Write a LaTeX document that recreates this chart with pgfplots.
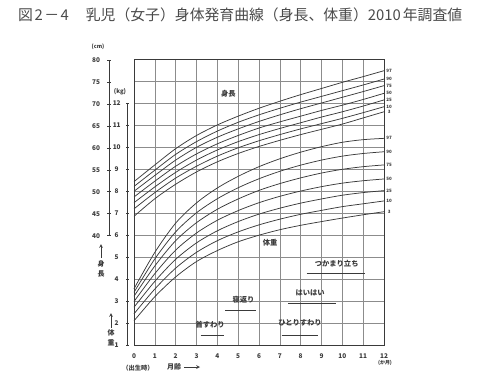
\documentclass[border=0pt]{standalone}
\usepackage{fontspec}
\setmainfont{Noto Sans CJK JP}
\usepackage{pgfplots}
\usepackage{pgfplotstable}
\pgfplotsset{compat=1.18}
\definecolor{gridc}{HTML}{8C8C8C}
\definecolor{curvec}{HTML}{3A3A3A}
\definecolor{ttl}{HTML}{4A4A4A}

% height (cm), girls, percentiles 3,10,25,50,75,90,97
\pgfplotstableread{
m  p3    p10   p25   p50   p75   p90   p97
0  44.3  46.0  47.4  48.7  50.0  51.1  52.2
1  48.3  49.7  51.0  52.3  53.6  54.8  56.0
2  51.6  53.0  54.3  55.7  57.1  58.4  59.7
3  54.4  55.7  57.1  58.5  60.0  61.3  62.7
4  56.7  58.0  59.4  60.8  62.3  63.7  65.1
5  58.6  59.9  61.3  62.7  64.2  65.7  67.1
6  60.2  61.5  62.9  64.4  65.9  67.4  68.9
7  61.6  62.9  64.3  65.8  67.4  68.9  70.5
8  62.9  64.2  65.6  67.1  68.8  70.3  72.0
9  64.1  65.4  66.9  68.4  70.1  71.6  73.4
10 65.3  66.6  68.1  69.6  71.4  72.9  74.8
11 66.7  67.9  69.4  70.9  72.7  74.2  76.1
12 68.1  69.25 70.8  72.3  74.05 75.55 77.45
}\heighttab

% weight (kg), girls, percentiles 3,10,25,50,75,90,97
\pgfplotstableread{
m  p3    p10   p25   p50   p75   p90   p97
0  2.10  2.42  2.72  2.98  3.22  3.40  3.56
1  3.20  3.55  3.90  4.25  4.60  4.92  5.22
2  4.10  4.50  4.90  5.32  5.75  6.15  6.55
3  4.80  5.22  5.65  6.10  6.57  7.02  7.47
4  5.30  5.75  6.20  6.68  7.18  7.66  8.15
5  5.70  6.15  6.62  7.12  7.65  8.16  8.68
6  6.00  6.47  6.96  7.48  8.04  8.57  9.12
7  6.25  6.73  7.23  7.77  8.35  8.91  9.48
8  6.45  6.95  7.46  8.01  8.61  9.19  9.78
9  6.62  7.13  7.65  8.21  8.83  9.42  10.03
10 6.78  7.30  7.82  8.37  9.00  9.60  10.23
11 6.93  7.43  7.94  8.48  9.12  9.72  10.35
12 7.07  7.56  8.03  8.56  9.20  9.80  10.41
}\weighttab

\pgfplotsset{cv/.style={draw=curvec, line width=0.75bp, no marks, solid}}

\begin{document}
\begin{tikzpicture}[x=1bp,y=1bp]
\path[use as bounding box] (0,0) rectangle (500,391);

\node[anchor=west, inner sep=0, text=ttl, font=\fontsize{14.9}{17}\selectfont] at (18,376)
  {図\hspace{1.5bp}2\hspace{1.5bp}－\hspace{1.5bp}4\hspace{17bp}乳児（女子）身体発育曲線（身長、体重）2010\hspace{2bp}年調査値};

% cm scale
\begin{axis}[at={(109bp,155.3bp)}, anchor=south west, scale only axis,
  width=10bp, height=175.7bp, xmin=0, xmax=1, ymin=40, ymax=80,
  hide x axis, axis y line*=left,
  axis line style={draw=curvec, line width=0.7bp},
  ytick={40,45,...,80}, tick align=center, major tick length=4bp,
  ytick style={draw=curvec, line width=0.6bp},
  /pgf/number format/assume math mode=true,
  yticklabel style={anchor=center, xshift=-11bp, text=curvec, font=\fontsize{6.5}{7}\selectfont\bfseries}]
\end{axis}

% kg scale
\begin{axis}[at={(127.7bp,46bp)}, anchor=south west, scale only axis,
  width=10bp, height=241.6bp, xmin=0, xmax=1, ymin=1, ymax=12,
  hide x axis, axis y line*=left,
  axis line style={draw=curvec, line width=0.7bp},
  ytick={1,...,12}, tick align=center, major tick length=3bp,
  ytick style={draw=curvec, line width=0.6bp},
  /pgf/number format/assume math mode=true,
  yticklabel style={anchor=center, xshift=-9.5bp, text=curvec, font=\fontsize{6.5}{7}\selectfont\bfseries}]
\end{axis}

% main chart
\begin{axis}[at={(134bp,46bp)}, anchor=south west, scale only axis,
  width=250bp, height=285.5bp, xmin=0, xmax=12, ymin=1, ymax=14,
  xtick={0,...,12}, ytick={1,...,14}, yticklabels={},
  grid=major, grid style={draw=gridc, line width=0.55bp},
  axis line style={draw=curvec, line width=0.8bp},
  major tick length=0bp,
  /pgf/number format/assume math mode=true,
  xticklabel style={anchor=center, yshift=-11bp, text=curvec, font=\fontsize{6.5}{7}\selectfont\bfseries},
  clip=false]

% height curves (cm mapped onto the kg grid: 40 cm = 6, 5 cm per unit)
\addplot[cv, smooth] table[x=m, y expr={6+(\thisrow{p3}-40)/5}] {\heighttab};
\addplot[cv, smooth] table[x=m, y expr={6+(\thisrow{p10}-40)/5}] {\heighttab};
\addplot[cv, smooth] table[x=m, y expr={6+(\thisrow{p25}-40)/5}] {\heighttab};
\addplot[cv, smooth] table[x=m, y expr={6+(\thisrow{p50}-40)/5}] {\heighttab};
\addplot[cv, smooth] table[x=m, y expr={6+(\thisrow{p75}-40)/5}] {\heighttab};
\addplot[cv, smooth] table[x=m, y expr={6+(\thisrow{p90}-40)/5}] {\heighttab};
\addplot[cv, smooth] table[x=m, y expr={6+(\thisrow{p97}-40)/5}] {\heighttab};
% weight curves
\addplot[cv, smooth] table[x=m, y=p3] {\weighttab};
\addplot[cv, smooth] table[x=m, y=p10] {\weighttab};
\addplot[cv, smooth] table[x=m, y=p25] {\weighttab};
\addplot[cv, smooth] table[x=m, y=p50] {\weighttab};
\addplot[cv, smooth] table[x=m, y=p75] {\weighttab};
\addplot[cv, smooth] table[x=m, y=p90] {\weighttab};
\addplot[cv, smooth] table[x=m, y=p97] {\weighttab};

% milestones
\addplot[cv] coordinates {(3.2,1.43) (4.3,1.43)};
\addplot[cv] coordinates {(4.37,2.59) (5.86,2.59)};
\addplot[cv] coordinates {(7.4,2.90) (9.68,2.90)};
\addplot[cv] coordinates {(7.09,1.46) (8.85,1.46)};
\addplot[cv] coordinates {(8.29,4.27) (11.1,4.27)};

\begin{scope}[every node/.style={text=curvec, font=\fontsize{7.3}{8}\selectfont\bfseries, inner sep=0}]
\node at (axis cs:3.65,1.91) {首すわり};
\node at (axis cs:5.26,3.05) {寝返り};
\node at (axis cs:8.45,3.37) {はいはい};
\node at (axis cs:7.97,2.02) {ひとりすわり};
\node at (axis cs:9.73,4.72) {つかまり立ち};
\node at (axis cs:4.53,12.43) {身長};
\node at (axis cs:6.53,5.64) {体重};
\end{scope}

\begin{scope}[every node/.style={text=curvec, font=\fontsize{4.5}{5}\selectfont\bfseries, inner sep=0}]
\node at (axis cs:12.25,13.49) {97};
\node at (axis cs:12.25,13.11) {90};
\node at (axis cs:12.25,12.81) {75};
\node at (axis cs:12.25,12.46) {50};
\node at (axis cs:12.25,12.16) {25};
\node at (axis cs:12.25,11.85) {10};
\node at (axis cs:12.25,11.62) {3};
\node at (axis cs:12.25,10.41) {97};
\node at (axis cs:12.25,9.80) {90};
\node at (axis cs:12.25,9.20) {75};
\node at (axis cs:12.25,8.56) {50};
\node at (axis cs:12.25,8.03) {25};
\node at (axis cs:12.25,7.56) {10};
\node at (axis cs:12.25,7.07) {3};
\end{scope}
\end{axis}

% side and bottom labels
\begin{scope}[every node/.style={text=curvec, inner sep=0}]
\node[font=\fontsize{5.5}{6}\selectfont\bfseries] at (98,344) {(cm)};
\node[font=\fontsize{6}{7}\selectfont\bfseries] at (120,299) {(kg)};
\node[font=\fontsize{7}{8}\selectfont\bfseries] at (101,127) {身};
\node[font=\fontsize{7}{8}\selectfont\bfseries] at (101,117) {長};
\node[font=\fontsize{7}{8}\selectfont\bfseries] at (111,58) {体};
\node[font=\fontsize{7}{8}\selectfont\bfseries] at (111,48) {重};
\node[font=\fontsize{6.3}{7}\selectfont\bfseries] at (138,23) {（出生時）};
\node[font=\fontsize{7}{8}\selectfont\bfseries, anchor=west] at (167,24) {月齢};
\node[font=\fontsize{5}{6}\selectfont\bfseries] at (385,28) {(か月)};
\end{scope}
\draw[->, >=stealth, draw=curvec, line width=0.7bp] (101,133) -- (101,147);
\draw[->, >=stealth, draw=curvec, line width=0.7bp] (111,63) -- (111,78);
\draw[->, >=stealth, draw=curvec, line width=0.7bp] (184,24) -- (200,24);
\end{tikzpicture}
\end{document}
